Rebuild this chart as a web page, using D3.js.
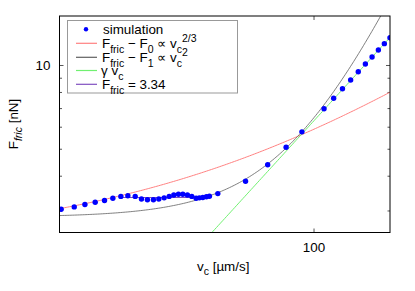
<!DOCTYPE html>
<html>
<head>
<meta charset="utf-8">
<script src="https://cdn.jsdelivr.net/npm/d3@7"></script>
<style>
  body { margin: 0; background: #fff; }
  text { font-family: "Liberation Sans", Arial, sans-serif; fill: #000; }
</style>
</head>
<body>
<script>
// simulation points
var vc = [10.15, 11.43, 12.59, 13.82, 15.04, 16.22, 17.44, 18.58, 19.86, 21.02,
          22.19, 23.43, 24.6, 25.82, 27.02, 28.18, 29.39, 30.58, 31.88, 33.18,
          34.5, 35.53, 36.65, 37.87, 38.92, 42, 54, 66, 78, 90,
          110, 120, 130, 140, 150, 160, 170, 180, 190, 200];
var fric = [3.03, 3.09, 3.15, 3.21, 3.26, 3.32, 3.37, 3.39, 3.37, 3.3,
            3.28, 3.28, 3.3, 3.33, 3.37, 3.41, 3.43, 3.43, 3.41, 3.37,
            3.32, 3.33, 3.34, 3.36, 3.375, 3.45, 3.82, 4.38, 5.06, 5.75,
            6.96, 7.59, 8.22, 8.83, 9.46, 10.08, 10.68, 11.32, 11.93, 12.53];

// fit parameters
var F0 = 2.27, a23 = 0.167;      // F - F0 = a * v^(2/3)
var F1 = 2.84, b2 = 3.6e-4;      // F - F1 = b * v^2
var gamma = 0.0628;              // F = gamma * v
var Fplateau = 3.34, plateauRange = [17.3, 34.8];

var xTicks = [100];
var yMajor = [10];
var yMinor = [3, 4, 5, 6, 7, 8, 9];

var W = 415, H = 291;
var svg = d3.select("body").append("svg").attr("width", W).attr("height", H);

var x = d3.scaleLog().domain([10, 200]).range([59.5, 390]);
var y = d3.scaleLog().domain([2.5, 15]).range([232.5, 16]);

svg.append("clipPath").attr("id", "clip")
  .append("rect").attr("x", 59.5).attr("y", 16).attr("width", 330.5).attr("height", 216.5);

// axes ticks (inward, mirrored)
function noDomain(g) { g.select(".domain").remove(); g.selectAll("text").style("font-size", "13.4px").style("font-family", "Liberation Sans, Arial, sans-serif"); }

svg.append("g").attr("transform", "translate(0,232.5)")
  .call(d3.axisBottom(x).tickValues(xTicks).tickFormat(d3.format("d")).tickSizeInner(-4).tickSizeOuter(0).tickPadding(9.5))
  .call(noDomain);
svg.append("g").attr("transform", "translate(0,16)")
  .call(d3.axisTop(x).tickValues(xTicks).tickFormat("").tickSizeInner(-4).tickSizeOuter(0))
  .call(noDomain);
svg.append("g").attr("transform", "translate(59.5,0)")
  .call(d3.axisLeft(y).tickValues(yMajor).tickFormat(d3.format("d")).tickSizeInner(-4).tickSizeOuter(0).tickPadding(9))
  .call(noDomain);
svg.append("g").attr("transform", "translate(59.5,0)")
  .call(d3.axisLeft(y).tickValues(yMinor).tickFormat("").tickSizeInner(-2.5).tickSizeOuter(0))
  .call(noDomain);
svg.append("g").attr("transform", "translate(390,0)")
  .call(d3.axisRight(y).tickValues(yMajor).tickFormat("").tickSizeInner(-4).tickSizeOuter(0))
  .call(noDomain);
svg.append("g").attr("transform", "translate(390,0)")
  .call(d3.axisRight(y).tickValues(yMinor).tickFormat("").tickSizeInner(-2.5).tickSizeOuter(0))
  .call(noDomain);
svg.selectAll(".tick line").attr("stroke", "#555");

// fit curves
var vs = d3.range(0, 201).map(function (i) { return 10 * Math.pow(20, i / 200); });
var line = d3.line().x(function (d) { return x(d[0]); }).y(function (d) { return y(d[1]); });
var plot = svg.append("g").attr("clip-path", "url(#clip)");

plot.append("path").datum(vs.map(function (v) { return [v, F0 + a23 * Math.pow(v, 2 / 3)]; }))
  .attr("d", line).attr("fill", "none").attr("stroke", "#ff8080").attr("stroke-width", 1);
plot.append("path").datum(vs.map(function (v) { return [v, F1 + b2 * v * v]; }))
  .attr("d", line).attr("fill", "none").attr("stroke", "#606060").attr("stroke-width", 0.8);
plot.append("path").datum(vs.map(function (v) { return [v, gamma * v]; }))
  .attr("d", line).attr("fill", "none").attr("stroke", "#70f070").attr("stroke-width", 1);
plot.append("path").datum(plateauRange.map(function (v) { return [v, Fplateau]; }))
  .attr("d", line).attr("fill", "none").attr("stroke", "#8050c0").attr("stroke-width", 1.2);

plot.selectAll("circle").data(vc).enter().append("circle")
  .attr("cx", function (d) { return x(d); })
  .attr("cy", function (d, i) { return y(fric[i]); })
  .attr("r", 2.7).attr("fill", "#0000ff");

// border
svg.append("rect").attr("x", 59.5).attr("y", 16).attr("width", 330.5).attr("height", 216.5)
  .attr("fill", "none").attr("stroke", "#000").attr("stroke-width", 1);

// legend
var lg = svg.append("g");
lg.append("rect").attr("x", 67.5).attr("y", 20.5).attr("width", 170).attr("height", 72.5)
  .attr("fill", "none").attr("stroke", "#999");
var rows = [29.3, 43.3, 57.3, 70.5, 84.3];
var legColors = [null, "#ff8080", "#606060", "#70f070", "#8050c0"];
lg.append("circle").attr("cx", 86).attr("cy", rows[0]).attr("r", 2.2).attr("fill", "#0000ff");
legColors.forEach(function (c, i) {
  if (!c) return;
  lg.append("line").attr("x1", 76).attr("x2", 97).attr("y1", rows[i]).attr("y2", rows[i])
    .attr("stroke", c).attr("stroke-width", 1.2);
});

function richText(parent, xx, yy, parts) {
  var t = parent.append("text").attr("x", xx).attr("y", yy).style("font-size", "13.4px");
  var cur = 0;
  parts.forEach(function (p) {
    var off = p.shift || 0;
    var ts = t.append("tspan").text(p.t).attr("dy", off - cur);
    if (p.small) ts.style("font-size", "10.5px");
    if (p.italic) ts.style("font-style", "italic");
    cur = off;
  });
  return t;
}

richText(lg, 103, rows[0] + 4.5, [{ t: "simulation" }]);
richText(lg, 102, rows[1] + 4.8, [
  { t: "F" }, { t: "fric", small: true, shift: 4.5 }, { t: " \u2212 F" },
  { t: "0", small: true, shift: 4.5 }, { t: " \u221d v" },
  { t: "c", small: true, shift: 4.5 }, { t: "2/3", small: true, shift: -6.5 }]);
richText(lg, 102, rows[2] + 4.8, [
  { t: "F" }, { t: "fric", small: true, shift: 4.5 }, { t: " \u2212 F" },
  { t: "1", small: true, shift: 4.5 }, { t: " \u221d v" },
  { t: "c", small: true, shift: 4.5 }, { t: "2", small: true, shift: -6.5 }]);
richText(lg, 101, rows[3] + 4.8, [{ t: "\u03b3 v" }, { t: "c", small: true, shift: 4.5 }]);
richText(lg, 102, rows[4] + 4.8, [
  { t: "F" }, { t: "fric", small: true, shift: 4.5 }, { t: " = 3.34" }]);

// axis titles
richText(svg, 197, 271, [{ t: "v" }, { t: "c", small: true, shift: 4 }, { t: " [\u00b5m/s]" }]);
var yl = richText(svg, 0, 0, [{ t: "F" }, { t: "fric", small: true, italic: true, shift: 4 }, { t: " [nN]" }]);
yl.attr("text-anchor", "middle").attr("transform", "translate(18,124) rotate(-90)");
</script>
</body>
</html>
